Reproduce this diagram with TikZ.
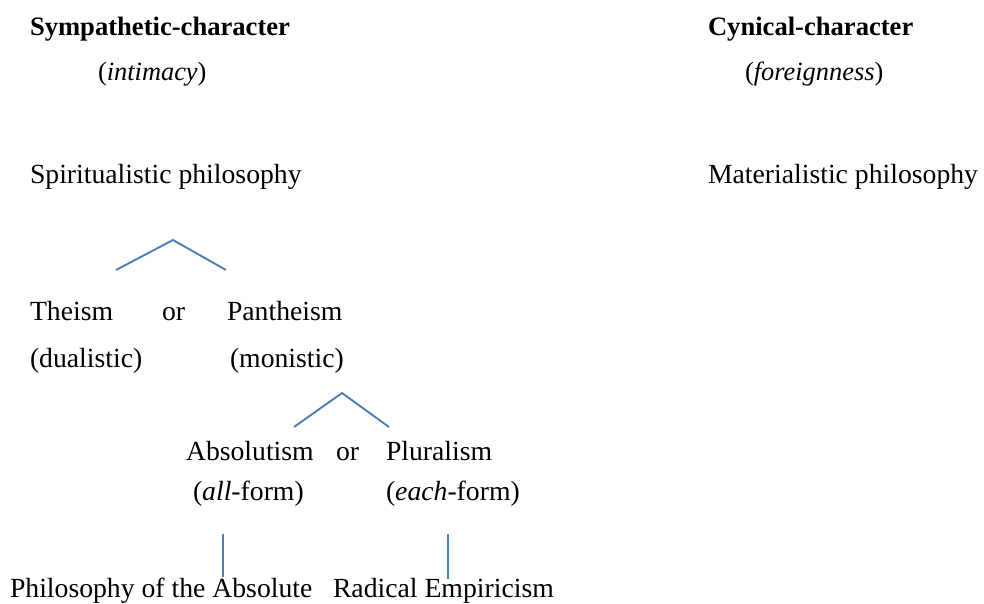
\documentclass[tikz,border=0pt]{standalone}
\usepackage{fontspec}
\setmainfont{Liberation Serif}
\definecolor{linkblue}{HTML}{4A7EBB}
\begin{document}
\begin{tikzpicture}[x=1pt,y=-1pt,
  txt/.style={anchor=base west,inner sep=0pt,outer sep=0pt,font=\fontsize{27.7}{33}\selectfont},
  head/.style={anchor=base west,inner sep=0pt,outer sep=0pt,font=\fontsize{26.6}{32}\selectfont\bfseries},
  sub/.style={anchor=base west,inner sep=0pt,outer sep=0pt,font=\fontsize{26.4}{32}\selectfont},
  branch/.style={draw=linkblue,line width=1.9pt}]
\useasboundingbox (0,0) rectangle (984,603);
% headers
\node[head] (symp) at (30,35) {Sympathetic-character};
\node[sub] (intim) at (98,80) {(\textit{intimacy})};
\node[head] (cyn) at (708,35) {Cynical-character};
\node[sub] (foreign) at (745,80) {(\textit{foreignness})};
\node[txt] (spirit) at (30,183) {Spiritualistic philosophy};
\node[txt] (mater) at (708,183) {Materialistic philosophy};
% first split
\coordinate (a1) at (116,270);
\coordinate (a2) at (173,240);
\coordinate (a3) at (226,270);
\draw[branch] (a1) -- (a2) -- (a3);
\node[txt] (theism) at (30,320) {Theism};
\node[txt] (or1) at (162,320) {or};
\node[txt] (panth) at (227,320) {Pantheism};
\node[txt] (dual) at (30,367) {(dualistic)};
\node[txt] (mon) at (230,367) {(monistic)};
% second split
\coordinate (b1) at (294,427);
\coordinate (b2) at (342,393);
\coordinate (b3) at (389,427);
\draw[branch] (b1) -- (b2) -- (b3);
\node[txt] (absol) at (186,460) {Absolutism};
\node[txt] (or2) at (336,460) {or};
\node[txt] (plur) at (386,460) {Pluralism};
\node[txt] (allf) at (193,500) {(\textit{all}-form)};
\node[txt] (eachf) at (386,500) {(\textit{each}-form)};
% bottom
\coordinate (c1) at (223,534);
\coordinate (c2) at (223,577);
\coordinate (d1) at (448,534);
\coordinate (d2) at (448,579);
\draw[branch] (c1) -- (c2);
\draw[branch] (d1) -- (d2);
\node[txt] (phabs) at (10,597) {Philosophy of the Absolute};
\node[txt] (radem) at (333,597) {Radical Empiricism};
\end{tikzpicture}
\end{document}
